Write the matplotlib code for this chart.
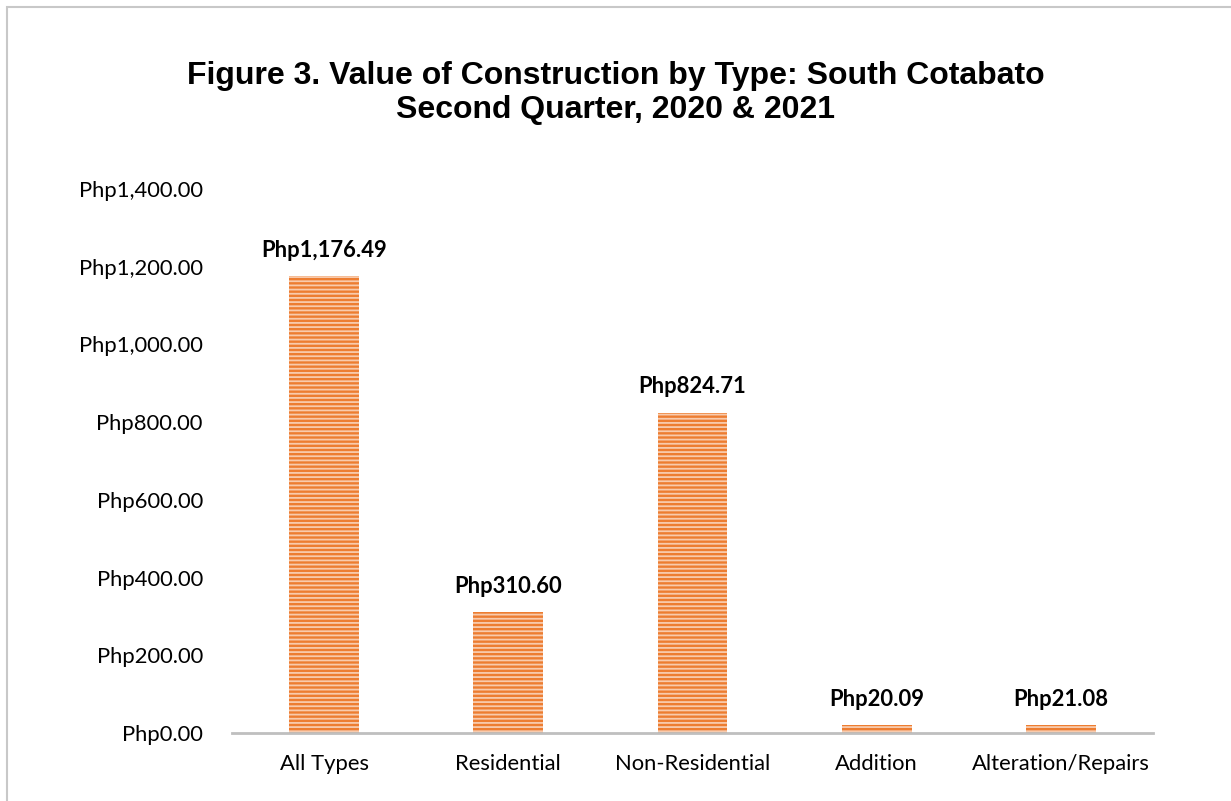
from matplotlib import pyplot as plt
from matplotlib.patches import Rectangle
from matplotlib.ticker import FuncFormatter

# 数据
types = ["All Types", "Residential", "Non-Residential", "Addition", "Alteration/Repairs"]
values = [1176.49, 310.60, 824.71, 20.09, 21.08]
y_ticks = [0, 200, 400, 600, 800, 1000, 1200, 1400]

plt.rcParams['font.family'] = ['Lato', 'DejaVu Sans']
plt.rcParams['hatch.linewidth'] = 1.3

fig = plt.figure(figsize=(12.31, 8.01), dpi=100)
ax = fig.add_axes([232 / 1231, 1 - 733 / 801, (1153 - 232) / 1231, (733 - 189) / 801])

# 柱状图（横条纹）
x = range(len(types))
ax.bar(x, values, width=0.38, color="#ED7D31", edgecolor="#F8CBAD",
       linewidth=0, hatch="----")

# 数据标签
for i, v in enumerate(values):
    ax.annotate("Php{:,.2f}".format(v), (i, v), xytext=(0, 11), textcoords="offset points",
                ha="center", va="bottom", fontsize=15.8, fontweight="bold")

ax.set_xlim(-0.5, 4.5)
ax.set_ylim(0, 1400)
ax.set_yticks(y_ticks)
ax.yaxis.set_major_formatter(FuncFormatter(lambda v, p: "Php{:,.2f}".format(v)))
ax.set_xticks(list(x))
ax.set_xticklabels(types)
ax.tick_params(axis="both", length=0, labelsize=15.8)
ax.tick_params(axis="y", pad=21)
ax.tick_params(axis="x", pad=15)

for s in ["top", "right", "left"]:
    ax.spines[s].set_visible(False)
ax.spines["bottom"].set_color("#BFBFBF")
ax.spines["bottom"].set_linewidth(2)

# 标题
fig.text(0.5, 1 - 93 / 801, "Figure 3. Value of Construction by Type: South Cotabato\nSecond Quarter, 2020 & 2021",
         ha="center", va="center", fontsize=23, fontweight="bold", family="Liberation Sans",
         linespacing=1.2)

# 外框
fig.patches.append(Rectangle((7 / 1231, -0.1), 1.2, 1 - 7 / 801 + 0.1, transform=fig.transFigure,
                             fill=False, edgecolor="#C8C8C8", linewidth=1.5))

plt.savefig("out.png", dpi=100)
